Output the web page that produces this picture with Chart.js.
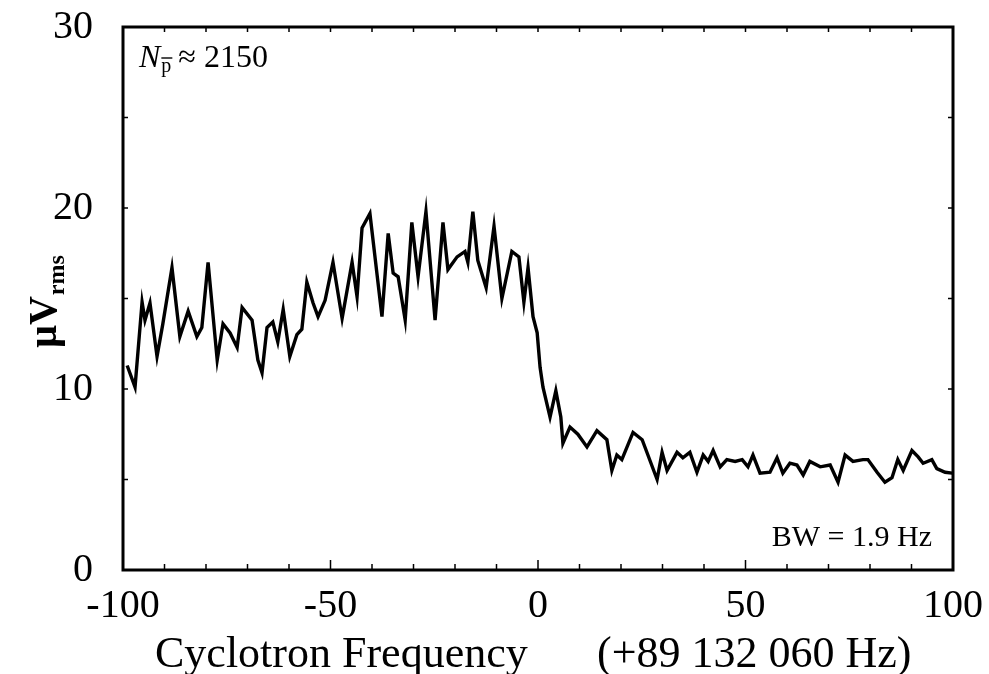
<!DOCTYPE html>
<html>
<head>
<meta charset="utf-8">
<script src="https://cdn.jsdelivr.net/npm/chart.js@4/dist/chart.umd.min.js"></script>
<style>
  html, body { margin: 0; padding: 0; background: #fff; }
  #wrap { width: 989px; height: 674px; }
</style>
</head>
<body>
<div id="wrap"><canvas id="spectrum" width="989" height="674"></canvas></div>
<script>
// Frequency offset from 89 132 060 Hz (Hz)
const freqOffsets = [
  -99.0, -97.1, -95.4, -94.7, -93.5, -91.8, -90.4, -88.2, -86.3, -84.3,
  -82.2, -81.0, -79.5, -77.3, -75.9, -74.2, -72.5, -71.3, -68.9, -67.5,
  -66.5, -65.3, -63.9, -62.7, -61.4, -59.8, -58.1, -56.9, -55.7, -54.2,
  -53.0, -51.3, -49.4, -47.2, -44.8, -43.6, -42.4, -40.5, -37.6, -36.1,
  -34.9, -33.7, -32.0, -30.4, -28.9, -27.0, -24.8, -22.9, -21.7, -19.5,
  -17.6, -16.9, -15.7, -14.5, -12.5, -10.6, -8.7, -6.3, -4.6, -3.4,
  -2.4, -1.2, -0.2, 0.5, 1.2, 2.9, 4.3, 5.5, 6.0, 7.7,
  9.6, 11.8, 14.2, 16.6, 17.8, 19.0, 20.2, 22.9, 25.1, 28.7,
  29.9, 31.1, 33.5, 34.9, 36.6, 38.3, 39.8, 41.0, 42.2, 43.9,
  45.5, 47.5, 49.2, 50.6, 51.8, 53.5, 55.9, 57.6, 59.0, 60.7,
  62.4, 63.9, 65.5, 68.0, 70.4, 72.3, 74.0, 75.9, 78.3, 79.5,
  81.7, 83.6, 85.3, 86.7, 88.0, 90.1, 91.6, 92.8, 94.9, 96.1,
  98.1, 99.8
];

// Signal amplitude (uV rms)
const signalRms = [
  11.3, 10.1, 14.8, 13.8, 14.75, 11.8, 13.6, 16.7, 12.9, 14.3,
  12.9, 13.4, 17.0, 11.6, 13.6, 13.1, 12.3, 14.5, 13.8, 11.6,
  10.9, 13.4, 13.7, 12.6, 14.4, 11.8, 13.0, 13.3, 15.9, 14.75,
  14.0, 14.9, 17.0, 13.9, 17.0, 15.1, 18.9, 19.7, 14.0, 18.6,
  16.4, 16.2, 13.8, 19.2, 16.2, 19.8, 13.8, 19.2, 16.6, 17.3,
  17.6, 17.0, 19.8, 17.1, 15.6, 19.0, 15.0, 17.6, 17.3, 14.8,
  16.7, 14.0, 13.1, 11.2, 10.1, 8.45, 9.9, 8.45, 7.0, 7.9,
  7.5, 6.8, 7.7, 7.2, 5.5, 6.35, 6.1, 7.6, 7.2, 5.0,
  6.5, 5.5, 6.5, 6.2, 6.5, 5.4, 6.35, 6.0, 6.6, 5.7,
  6.1, 6.0, 6.1, 5.7, 6.35, 5.35, 5.4, 6.2, 5.35, 5.9,
  5.8, 5.25, 6.0, 5.7, 5.8, 4.85, 6.35, 6.0, 6.1, 6.1,
  5.4, 4.85, 5.1, 6.1, 5.5, 6.6, 6.25, 5.9, 6.1, 5.6,
  5.4, 5.35
];

const xTickLabels = [-100, -50, 0, 50, 100];
const yTickLabels = [0, 10, 20, 30];
const xMinorTicks = [-90, -80, -70, -60, -50, -40, -30, -20, -10, 0, 10, 20, 30, 40, 50, 60, 70, 80, 90];
const yMinorTicks = [5, 10, 15, 20, 25];

const SERIF = "'Liberation Serif', 'DejaVu Serif', serif";

const points = freqOffsets.map((f, i) => ({ x: f, y: signalRms[i] }));

// frame, tick marks + labels, axis titles and in-plot notes
const decorPlugin = {
  id: "decor",
  afterDraw(chart) {
    const { ctx, chartArea: a, scales } = chart;
    const xs = scales.x, ys = scales.y;
    ctx.save();
    ctx.strokeStyle = "#000";
    ctx.fillStyle = "#000";

    // box
    ctx.lineWidth = 3;
    ctx.strokeRect(a.left, a.top, a.right - a.left, a.bottom - a.top);

    // inward ticks
    ctx.lineWidth = 1.5;
    ctx.beginPath();
    xMinorTicks.forEach((v) => {
      const px = xs.getPixelForValue(v);
      const len = v % 50 === 0 ? 10 : 6;
      ctx.moveTo(px, a.bottom);
      ctx.lineTo(px, a.bottom - len);
      ctx.moveTo(px, a.top);
      ctx.lineTo(px, a.top + 5);
    });
    yMinorTicks.forEach((v) => {
      const py = ys.getPixelForValue(v);
      ctx.moveTo(a.left, py);
      ctx.lineTo(a.left + 5, py);
      ctx.moveTo(a.right, py);
      ctx.lineTo(a.right - 5, py);
    });
    ctx.stroke();

    // tick labels
    ctx.font = "40px " + SERIF;
    ctx.textAlign = "center";
    ctx.textBaseline = "alphabetic";
    xTickLabels.forEach((v) => {
      ctx.fillText(String(v), xs.getPixelForValue(v), a.bottom + 47);
    });
    ctx.textAlign = "right";
    ctx.textBaseline = "middle";
    yTickLabels.forEach((v) => {
      ctx.fillText(String(v), a.left - 30, ys.getPixelForValue(v));
    });

    // y title: uV with rms subscript
    ctx.save();
    ctx.translate(56, 302);
    ctx.rotate(-Math.PI / 2);
    ctx.textBaseline = "alphabetic";
    ctx.textAlign = "left";
    ctx.font = "bold 40px " + SERIF;
    const main = "\u03BCV";
    const mw = ctx.measureText(main).width;
    ctx.font = "bold 24px " + SERIF;
    const sw = ctx.measureText("rms").width;
    const start = -(mw + sw) / 2;
    ctx.font = "bold 40px " + SERIF;
    ctx.fillText(main, start, 0);
    ctx.font = "bold 24px " + SERIF;
    ctx.fillText("rms", start + mw + 1, 8);
    ctx.restore();

    // x title
    ctx.textBaseline = "alphabetic";
    ctx.textAlign = "left";
    ctx.font = "44px " + SERIF;
    ctx.fillText("Cyclotron Frequency", 155, 667);
    ctx.fillText("(+89 132 060 Hz)", 597, 667);

    // N_pbar ~ 2150
    const nx = 139, ny = 67;
    ctx.font = "italic 32px " + SERIF;
    ctx.fillText("N", nx, ny);
    const nw = ctx.measureText("N").width;
    ctx.font = "20px " + SERIF;
    ctx.fillText("p", nx + nw + 1, ny + 5);
    const pw = ctx.measureText("p").width;
    ctx.lineWidth = 1.4;
    ctx.beginPath();
    ctx.moveTo(nx + nw + 1, ny - 9);
    ctx.lineTo(nx + nw + 2 + pw, ny - 9);
    ctx.stroke();
    ctx.font = "32px " + SERIF;
    ctx.fillText("\u2248 2150", nx + nw + pw + 8, ny);

    // bandwidth note
    ctx.textAlign = "right";
    ctx.font = "30px " + SERIF;
    ctx.fillText("BW = 1.9 Hz", 932, 546);

    ctx.restore();
  },
};

new Chart(document.getElementById("spectrum"), {
  type: "line",
  data: {
    datasets: [
      {
        data: points,
        borderColor: "#000",
        borderWidth: 3.4,
        pointRadius: 0,
        tension: 0,
        fill: false,
      },
    ],
  },
  options: {
    responsive: false,
    animation: false,
    devicePixelRatio: 1,
    layout: { padding: { left: 0, top: 27, right: 36, bottom: 0 } },
    plugins: {
      legend: { display: false },
      tooltip: { enabled: false },
    },
    scales: {
      x: {
        type: "linear",
        min: -100,
        max: 100,
        grid: { display: false, drawTicks: false },
        border: { display: false },
        afterBuildTicks: (s) => { s.ticks = xTickLabels.map((v) => ({ value: v })); },
        afterFit: (s) => { s.height = 104; },
        ticks: { display: false },
      },
      y: {
        min: 0,
        max: 30,
        grid: { display: false, drawTicks: false },
        border: { display: false },
        afterBuildTicks: (s) => { s.ticks = yTickLabels.map((v) => ({ value: v })); },
        afterFit: (s) => { s.width = 123; },
        ticks: { display: false },
      },
    },
  },
  plugins: [decorPlugin],
});
</script>
</body>
</html>
